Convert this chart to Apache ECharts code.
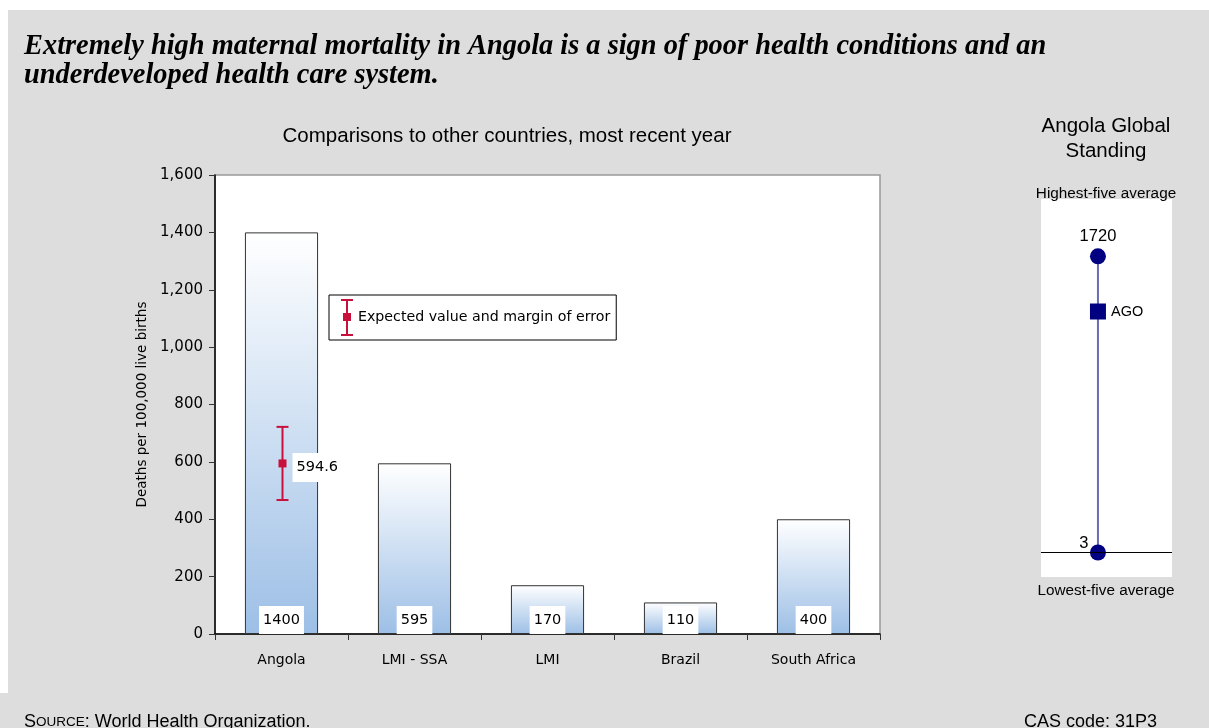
<!DOCTYPE html>
<html>
<head>
<meta charset="utf-8">
<script src="https://cdn.jsdelivr.net/npm/echarts@6/dist/echarts.min.js"></script>
<style>
  html, body { margin: 0; padding: 0; background: #fff; }
  #main { width: 1209px; height: 728px; }
</style>
</head>
<body>
<div id="main"></div>
<script>
// comparison bars
const categories = ['Angola', 'LMI - SSA', 'LMI', 'Brazil', 'South Africa'];
const rates = [1400, 595, 170, 110, 400];
// expected value and margin of error for Angola: [category, low, high, expected]
const errorBar = [[0, 467, 722, 594.6]];
const yTicks = { min: 0, max: 1600, interval: 200 };

// global standing panel
const standingHigh = 1720;
const standingLow = 3;
const standingAngola = 1400;

const GRAY = '#dddddd';
const RED = '#c8103c';
const NAVY = '#000080';
const gillFont = 'DejaVu Sans';

const chart = echarts.init(document.getElementById('main'));

const plain = { fontFamily: 'Liberation Sans', fontWeight: 'normal', color: '#000' };

const option = {
    backgroundColor: GRAY,
    animation: false,
    textStyle: { fontFamily: gillFont },
    title: [
        {
            text: 'Extremely high maternal mortality in Angola is a sign of poor health conditions and an\nunderdeveloped health care system.',
            left: 19,
            top: 27,
            textStyle: {
                fontFamily: 'Liberation Serif',
                fontStyle: 'italic',
                fontWeight: 'bold',
                fontSize: 28.4,
                lineHeight: 29,
                color: '#000'
            }
        },
        {
            text: 'Comparisons to other countries, most recent year',
            left: 502,
            textAlign: 'center',
            top: 121,
            textStyle: Object.assign({ fontSize: 20.5 }, plain)
        },
        {
            text: 'Angola Global\nStanding',
            left: 1101,
            textAlign: 'center',
            top: 109,
            textStyle: Object.assign({ fontSize: 20.5, lineHeight: 25 }, plain)
        },
        {
            text: 'Highest-five average',
            left: 1101,
            textAlign: 'center',
            top: 181,
            textStyle: Object.assign({ fontSize: 15.3 }, plain)
        },
        {
            text: 'Lowest-five average',
            left: 1101,
            textAlign: 'center',
            top: 578,
            textStyle: Object.assign({ fontSize: 15.3 }, plain)
        },
        {
            text: '{a|S}{b|OURCE}{a|: World Health Organization.}',
            left: 19,
            top: 708,
            textStyle: {
                fontWeight: 'normal',
                rich: {
                    a: Object.assign({ fontSize: 18 }, plain),
                    b: Object.assign({ fontSize: 13.5 }, plain)
                }
            }
        },
        {
            text: 'CAS code: 31P3',
            left: 1019,
            top: 708,
            textStyle: Object.assign({ fontSize: 18 }, plain)
        }
    ],
    graphic: [
        // white page margin around the gray panel
        { type: 'rect', z: -10, shape: { x: 0, y: 0, width: 1209, height: 10 }, style: { fill: '#fff' } },
        { type: 'rect', z: -10, shape: { x: 0, y: 0, width: 8, height: 693 }, style: { fill: '#fff' } },
        // white backdrop of the standing panel
        { type: 'rect', z: -5, shape: { x: 1041, y: 199, width: 131, height: 378 }, style: { fill: '#fff' } }
    ],
    legend: {
        data: ['Expected value and margin of error'],
        left: 329,
        top: 295,
        orient: 'vertical',
        backgroundColor: '#fff',
        borderColor: '#000',
        borderWidth: 1,
        borderRadius: 0,
        padding: [4, 6, 4, 12],
        itemWidth: 12,
        itemHeight: 37,
        icon: 'path://M0,0H12V2H7V14H10V22H7V35H12V37H0V35H5V22H2V14H5V2H0Z',
        textStyle: { fontFamily: gillFont, fontSize: 14.2, color: '#000' },
        selectedMode: false
    },
    grid: [
        {
            left: 215,
            top: 175,
            right: 329,
            bottom: 94,
            show: true,
            backgroundColor: '#fff',
            borderColor: '#999',
            borderWidth: 1.5
        },
        {
            left: 1041,
            top: 208,
            width: 131,
            height: 345
        }
    ],
    xAxis: [
        {
            gridIndex: 0,
            type: 'category',
            data: categories,
            axisLine: { lineStyle: { color: '#000', width: 1.5 } },
            axisTick: { show: true, length: 6, lineStyle: { color: '#333' } },
            axisLabel: { color: '#000', fontSize: 14, margin: 19, fontFamily: gillFont }
        },
        {
            gridIndex: 1,
            type: 'value',
            min: -1,
            max: 1.3,
            show: false
        }
    ],
    yAxis: [
        {
            gridIndex: 0,
            type: 'value',
            min: yTicks.min,
            max: yTicks.max,
            interval: yTicks.interval,
            name: 'Deaths per 100,000 live births',
            nameLocation: 'middle',
            nameGap: 63,
            nameTextStyle: { fontFamily: gillFont, fontSize: 13.5, color: '#000' },
            axisLine: { show: true, lineStyle: { color: '#000', width: 1.5 } },
            axisTick: { show: true, length: 6, lineStyle: { color: '#333' } },
            splitLine: { show: false },
            axisLabel: {
                color: '#000',
                fontSize: 15,
                margin: 12,
                fontFamily: gillFont,
                formatter: (v) => v.toLocaleString('en-US')
            }
        },
        {
            gridIndex: 1,
            type: 'value',
            min: 0,
            max: 2000,
            show: false
        }
    ],
    series: [
        {
            name: 'rates',
            type: 'bar',
            xAxisIndex: 0,
            yAxisIndex: 0,
            data: rates,
            barWidth: '55%',
            itemStyle: {
                color: new echarts.graphic.LinearGradient(0, 0, 0, 1, [
                    { offset: 0, color: '#ffffff' },
                    { offset: 1, color: '#9dbfe6' }
                ]),
                borderColor: '#333',
                borderWidth: 1
            },
            label: {
                show: true,
                position: 'insideBottom',
                distance: 0,
                backgroundColor: '#fff',
                padding: [7, 4, 6, 4],
                color: '#000',
                fontSize: 14.5,
                fontFamily: gillFont
            }
        },
        {
            name: 'Expected value and margin of error',
            type: 'custom',
            xAxisIndex: 0,
            yAxisIndex: 0,
            itemStyle: { color: RED },
            data: errorBar,
            z: 5,
            renderItem: function (params, api) {
                const lo = api.coord([api.value(0), api.value(1)]);
                const hi = api.coord([api.value(0), api.value(2)]);
                const mid = api.coord([api.value(0), api.value(3)]);
                const x = lo[0] + 1;
                const stroke = { stroke: RED, lineWidth: 2 };
                return {
                    type: 'group',
                    children: [
                        { type: 'line', shape: { x1: x, y1: hi[1], x2: x, y2: lo[1] }, style: stroke },
                        { type: 'line', shape: { x1: x - 6, y1: hi[1], x2: x + 6, y2: hi[1] }, style: stroke },
                        { type: 'line', shape: { x1: x - 6, y1: lo[1], x2: x + 6, y2: lo[1] }, style: stroke },
                        { type: 'rect', shape: { x: x - 4, y: mid[1] - 4, width: 8, height: 8 }, style: { fill: RED } },
                        {
                            type: 'text',
                            x: x + 10,
                            y: mid[1] + 4,
                            style: {
                                text: String(api.value(3)),
                                fill: '#000',
                                font: '14.5px "DejaVu Sans"',
                                verticalAlign: 'middle',
                                backgroundColor: '#fff',
                                padding: [7, 3, 7, 4]
                            }
                        }
                    ]
                };
            }
        },
        {
            name: 'standing line',
            type: 'line',
            xAxisIndex: 1,
            yAxisIndex: 1,
            data: [[0, standingHigh], [0, standingLow]],
            symbol: 'none',
            lineStyle: { color: '#6c6cb4', width: 2 },
            markLine: {
                silent: true,
                symbol: 'none',
                label: { show: false },
                lineStyle: { color: '#000', width: 1, type: 'solid' },
                data: [{ yAxis: standingLow }]
            },
            z: 2
        },
        {
            name: 'standing ends',
            type: 'scatter',
            xAxisIndex: 1,
            yAxisIndex: 1,
            symbol: 'circle',
            symbolSize: 16,
            itemStyle: { color: NAVY, opacity: 1 },
            data: [
                { value: [0, standingHigh], label: { position: 'top', distance: 3 } },
                { value: [0, standingLow], label: { position: 'top', distance: 0, offset: [-14, 7] } }
            ],
            label: {
                show: true,
                formatter: (p) => String(p.value[1]),
                fontFamily: 'Liberation Sans',
                fontSize: 16.5,
                color: '#000'
            },
            z: 4
        },
        {
            name: 'standing angola',
            type: 'scatter',
            xAxisIndex: 1,
            yAxisIndex: 1,
            symbol: 'rect',
            symbolSize: 16,
            itemStyle: { color: NAVY, opacity: 1 },
            data: [[0, standingAngola]],
            label: {
                show: true,
                position: 'right',
                distance: 5,
                formatter: 'AGO',
                fontFamily: 'Liberation Sans',
                fontSize: 14.5,
                color: '#000'
            },
            z: 4
        }
    ]
};

chart.setOption(option);
</script>
</body>
</html>
